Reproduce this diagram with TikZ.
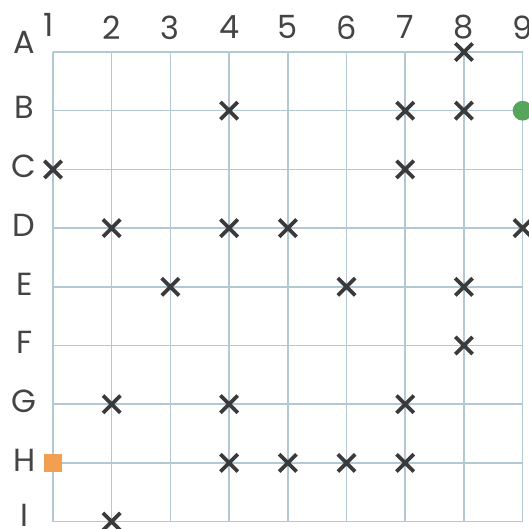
\documentclass[tikz,border=0pt]{standalone}
\usepackage{fontspec}
\setmainfont{Poppins}
\usepackage{xcolor}
\usetikzlibrary{shapes.misc}

\definecolor{gridline}{HTML}{B4C8D4}
\definecolor{markgray}{HTML}{3A3A3A}
\definecolor{labelgray}{HTML}{444444}
\definecolor{startgreen}{HTML}{55A55A}
\definecolor{goalorange}{HTML}{F0A050}

\begin{document}
\begin{tikzpicture}[
    gridlabel/.style={text=labelgray, font=\fontsize{15.5}{17}\selectfont, inner sep=0pt},
    xmark/.style={cross out, draw=markgray, line width=1.8pt, minimum size=6.6pt, inner sep=0pt},
]
        \clip (-0.903,0.886) rectangle (8.109,-8.109);
        \fill[white] (-0.903,0.886) rectangle (8.109,-8.109);
        \draw[gridline, line width=0.7pt] (0,-8) grid (8,0);

        % column numbers and row letters
        \node[gridlabel] (num-1) at (-0.07, 0.46) {1};
        \foreach \c in {2,...,9} {
            \node[gridlabel] (num-\c) at (\c-1, 0.42) {\c};
        }
        \foreach \l/\dy [count=\r] in {A/0.17, B/0.05, C/0.05, D/0.05, E/0.05, F/0.05, G/0.05, H/0.05, I/0.1} {
            \node[gridlabel] (row-\l) at (-0.49, 1-\r+\dy) {\l};
        }

        % crosses (row/column)
        \foreach \r/\c in {1/8, 2/4, 2/7, 2/8, 3/1, 3/7, 4/2, 4/4, 4/5, 4/9,
                           5/3, 5/6, 5/8, 6/8, 7/2, 7/4, 7/7, 8/4, 8/5, 8/6, 8/7, 9/2} {
            \node[xmark] (x-\r-\c) at (\c-1, 1-\r) {};
        }

        \node[circle, fill=startgreen, minimum size=9.6pt, inner sep=0pt] (start) at (8,-1) {};
        \node[rectangle, fill=goalorange, minimum size=8.6pt, inner sep=0pt] (goal) at (0,-7) {};
    \end{tikzpicture}
\end{document}
